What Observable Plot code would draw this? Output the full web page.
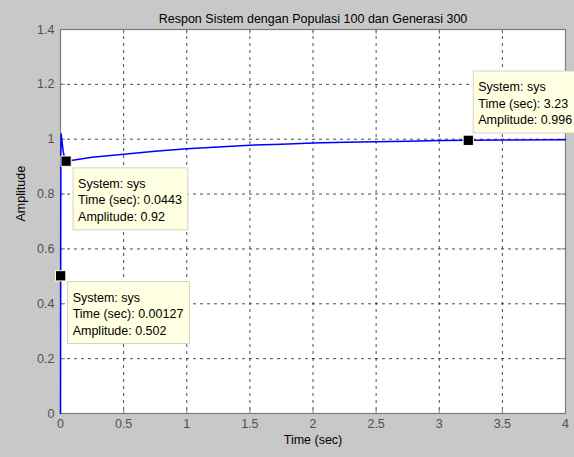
<!DOCTYPE html>
<html><head><meta charset="utf-8">
<script src="https://cdn.jsdelivr.net/npm/d3@7"></script>
<script src="https://cdn.jsdelivr.net/npm/@observablehq/plot@0.6"></script>
<style>
html,body{margin:0;padding:0;background:#c8c8c8;overflow:hidden;}
</style>
</head><body><div id="chart"></div>
<script>
const titleText = "Respon Sistem dengan Populasi 100 dan Generasi 300";
const xLabel = "Time (sec)";
const yLabel = "Amplitude";
const xTicks = [0, 0.5, 1, 1.5, 2, 2.5, 3, 3.5, 4];
const yTicks = [0, 0.2, 0.4, 0.6, 0.8, 1, 1.2, 1.4];

// step response
const timeSec   = [0, 0.0005, 0.00127, 0.002, 0.003, 0.005, 0.01, 0.02, 0.03, 0.0443, 0.25, 0.5, 0.75, 1, 1.25, 1.5, 1.75, 2, 2.25, 2.5, 2.75, 3, 3.23, 3.5, 4];
const amplitude = [0, 0.22, 0.502, 0.75, 0.95, 1.02, 1.0, 0.96, 0.935, 0.92, 0.934, 0.945, 0.956, 0.965, 0.972, 0.978, 0.982, 0.986, 0.989, 0.991, 0.993, 0.995, 0.996, 0.997, 0.998];

// data tips
const tipSystem = ["sys", "sys", "sys"];
const tipTime = [0.0443, 0.00127, 3.23];
const tipAmp = [0.92, 0.502, 0.996];

const curve = timeSec.map((t, i) => ({t, a: amplitude[i]}));
const tips = tipTime.map((t, i) => ({t, a: tipAmp[i], text: `System: ${tipSystem[i]}\nTime (sec): ${t}\nAmplitude: ${tipAmp[i]}`}));

const FONT = "'Liberation Sans', Arial, sans-serif";
const FS = 12.5;
const axisGray = "#7c7c7c";
const gridStyle = {stroke: "#000", strokeOpacity: 0.7, strokeDasharray: "3,4", strokeWidth: 1};
const tipStyle = {x: "t", y: "a", text: "text", textAnchor: "start", lineAnchor: "top", lineHeight: 1.32, fill: "#000", fontSize: FS};

const chart = Plot.plot({
  width: 574,
  height: 457,
  marginLeft: 60,
  marginRight: 9,
  marginTop: 29,
  marginBottom: 44,
  style: {background: "#c8c8c8", fontFamily: FONT, fontSize: FS + "px", color: "#505050", overflow: "visible"},
  x: {domain: [0, 4], ticks: xTicks, tickFormat: d => String(d), tickSize: 0, tickPadding: 6, label: null},
  y: {domain: [0, 1.4], ticks: yTicks, tickFormat: d => String(d), tickSize: 0, tickPadding: 6, label: null},
  marks: [
    Plot.frame({fill: "white", stroke: null}),
    Plot.ruleX(xTicks, {x: d => d, ...gridStyle}),
    Plot.ruleY(yTicks, {y: d => d, ...gridStyle}),
    // inward ticks (bottom/top, left/right)
    Plot.ruleX(xTicks, {x: d => d, y1: 0, y2: 0, insetTop: -5, stroke: axisGray}),
    Plot.ruleX(xTicks, {x: d => d, y1: 1.4, y2: 1.4, insetBottom: -5, stroke: axisGray}),
    Plot.ruleY(yTicks, {y: d => d, x1: 0, x2: 0, insetRight: -5, stroke: axisGray}),
    Plot.ruleY(yTicks, {y: d => d, x1: 4, x2: 4, insetLeft: -5, stroke: axisGray}),
    Plot.frame({stroke: axisGray, strokeWidth: 1.2}),
    Plot.line(curve, {x: "t", y: "a", stroke: "#0000ff", strokeWidth: 1.5}),
    Plot.text([tips[0]], {...tipStyle, dx: 12, dy: 15}),
    Plot.text([tips[1]], {...tipStyle, dx: 12, dy: 14}),
    Plot.text([tips[2]], {...tipStyle, dx: 10, dy: -61}),
    Plot.dot(tips, {x: "t", y: "a", symbol: "square", r: 5.8, fill: "#000", stroke: "#ffffe1", strokeWidth: 1}),
    Plot.text([titleText], {frameAnchor: "top", dy: -15, fill: "#000", fontSize: FS}),
    Plot.text([xLabel], {frameAnchor: "bottom", dy: 30, fill: "#000", fontSize: FS}),
    Plot.text([yLabel], {frameAnchor: "left", dx: -40, rotate: -90, fill: "#000", fontSize: FS})
  ]
});

document.getElementById("chart").appendChild(chart);

// draw the yellow data-tip boxes behind each tip text
const svgNS = "http://www.w3.org/2000/svg";
Array.from(chart.querySelectorAll("text"))
  .filter(el => el.textContent.startsWith("System:"))
  .forEach(el => {
    const bb = el.getBBox();
    const padL = 5, padR = 6, padT = 9, padB = 6;
    const rect = document.createElementNS(svgNS, "rect");
    rect.setAttribute("x", bb.x - padL);
    rect.setAttribute("y", bb.y - padT);
    rect.setAttribute("width", bb.width + padL + padR);
    rect.setAttribute("height", bb.height + padT + padB);
    rect.setAttribute("fill", "#ffffe1");
    rect.setAttribute("stroke", "#d3d3c0");
    rect.setAttribute("stroke-width", "1");
    const tr = el.getAttribute("transform");
    if (tr) rect.setAttribute("transform", tr);
    el.parentNode.insertBefore(rect, el);
  });
</script>
</body></html>
